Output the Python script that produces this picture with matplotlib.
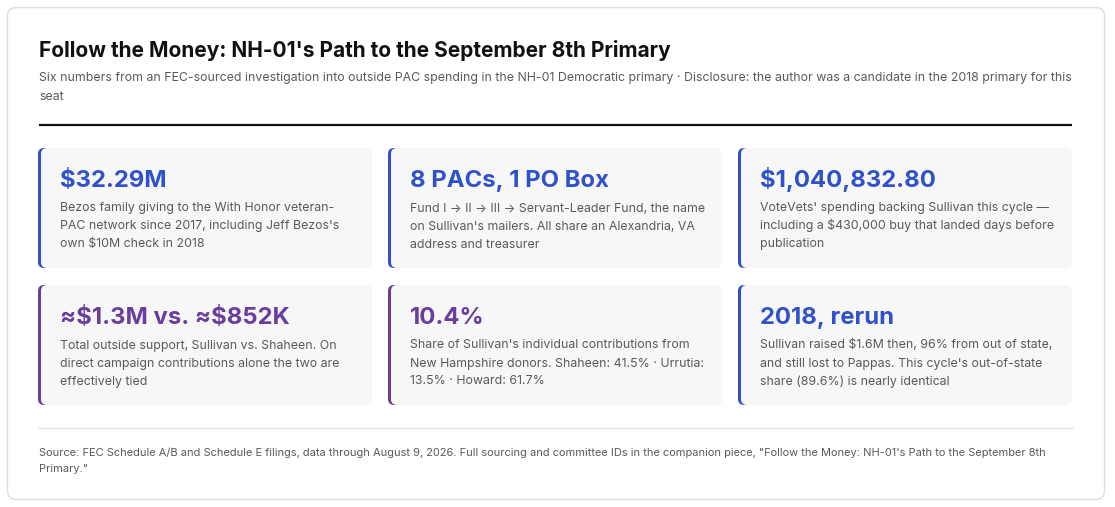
import matplotlib
matplotlib.use("Agg")
import matplotlib.pyplot as plt
from matplotlib.patches import FancyBboxPatch

plt.rcParams['font.family'] = ['Inter', 'DejaVu Sans']
plt.rcParams['text.parse_math'] = False  # les $ restent des $

# textes du graphique
titre = "Follow the Money: NH-01's Path to the September 8th Primary"
sous_titre = ["Six numbers from an FEC-sourced investigation into outside PAC spending in the NH-01 Democratic primary · Disclosure: the author was a candidate in the 2018 primary for this",
              "seat"]
source = ["Source: FEC Schedule A/B and Schedule E filings, data through August 9, 2026. Full sourcing and committee IDs in the companion piece, \"Follow the Money: NH-01's Path to the September 8th",
          "Primary.\""]

# les six cartes
chiffres = ["$32.29M", "8 PACs, 1 PO Box", "$1,040,832.80",
            "≈$1.3M vs. ≈$852K", "10.4%", "2018, rerun"]
descriptions = [
    ["Bezos family giving to the With Honor veteran-", "PAC network since 2017, including Jeff Bezos's", "own $10M check in 2018"],
    ["Fund I → II → III → Servant-Leader Fund, the name", "on Sullivan's mailers. All share an Alexandria, VA", "address and treasurer"],
    ["VoteVets' spending backing Sullivan this cycle —", "including a $430,000 buy that landed days before", "publication"],
    ["Total outside support, Sullivan vs. Shaheen. On", "direct campaign contributions alone the two are", "effectively tied"],
    ["Share of Sullivan's individual contributions from", "New Hampshire donors. Shaheen: 41.5% · Urrutia:", "13.5% · Howard: 61.7%"],
    ["Sullivan raised $1.6M then, 96% from out of state,", "and still lost to Pappas. This cycle's out-of-state", "share (89.6%) is nearly identical"],
]
accent = ["bleu", "bleu", "bleu", "violet", "violet", "bleu"]

couleurs = {"bleu": "#2f51c9", "violet": "#6a3d9e"}
GRIS_TEXTE = "#5a5a5a"

W, H = 1115, 507
fig = plt.figure(figsize=(W / 100, H / 100), dpi=100)
ax = fig.add_axes([0, 0, 1, 1])
ax.set_xlim(0, W)
ax.set_ylim(H, 0)
ax.axis('off')

# cadre extérieur
ax.add_patch(FancyBboxPatch((7.5, 7.5), 1097, 492, boxstyle="round,pad=0,rounding_size=9",
                            facecolor="white", edgecolor="#dedede", linewidth=1))

# titre + sous-titre
ax.text(39, 57, titre, fontsize=15.05, fontweight='bold', color="#111111", va='baseline')
for i, ligne in enumerate(sous_titre):
    ax.text(39, 81 + 19 * i, ligne, fontsize=8.9, color=GRIS_TEXTE, va='baseline')

ax.plot([39, 1072], [125, 125], color="#111111", linewidth=1.6, solid_capstyle='butt')

# cartes
x_cols = [38, 388, 738]
y_rows = [148, 285]
larg, haut = 334, 120
for k in range(6):
    x = x_cols[k % 3]
    y = y_rows[k // 3]
    c = couleurs[accent[k]]
    # bande de couleur à gauche, puis le fond gris par-dessus
    ax.add_patch(FancyBboxPatch((x, y), 30, haut, boxstyle="round,pad=0,rounding_size=6",
                                facecolor=c, edgecolor='none'))
    ax.add_patch(FancyBboxPatch((x + 3, y), larg - 3, haut, boxstyle="round,pad=0,rounding_size=6",
                                facecolor="#f7f7f7", edgecolor='none'))
    ax.text(x + 22, y + 39, chiffres[k], fontsize=17.2, fontweight='bold', color=c, va='baseline')
    for j, ligne in enumerate(descriptions[k]):
        ax.text(x + 22, y + 63.5 + 18 * j, ligne, fontsize=8.9, color=GRIS_TEXTE, va='baseline')

# pied de page
ax.plot([39, 1072], [428, 428], color="#e2e2e2", linewidth=1)
for i, ligne in enumerate(source):
    ax.text(39, 456 + 16 * i, ligne, fontsize=7.95, color=GRIS_TEXTE, va='baseline')

fig.savefig("out.png", dpi=100, facecolor="white")
